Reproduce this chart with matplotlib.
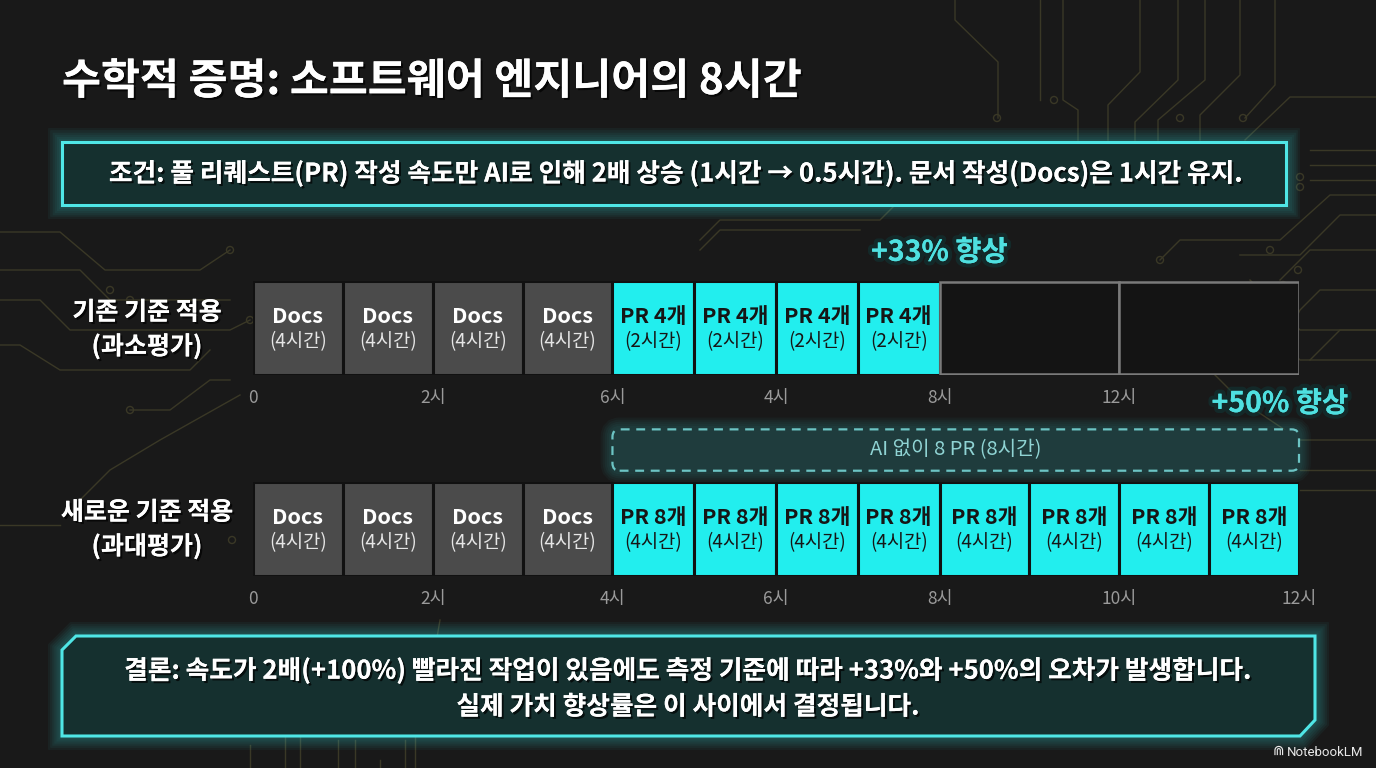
import matplotlib
matplotlib.use("Agg")
import matplotlib.pyplot as plt
from matplotlib.patches import Rectangle, FancyBboxPatch, Polygon, Circle
import matplotlib.patheffects as pe
import numpy as np

plt.rcParams['font.family'] = ['Noto Sans CJK KR', 'DejaVu Sans']

# ---------------- data ----------------
title = "수학적 증명: 소프트웨어 엔지니어의 8시간"
condition = "조건: 풀 리퀘스트(PR) 작성 속도만 AI로 인해 2배 상승 (1시간 → 0.5시간). 문서 작성(Docs)은 1시간 유지."
conclusion_lines = ["결론: 속도가 2배(+100%) 빨라진 작업이 있음에도 측정 기준에 따라 +33%와 +50%의 오차가 발생합니다.",
                    "실제 가치 향상률은 이 사이에서 결정됩니다."]

row_labels = ["기존 기준 적용\n(과소평가)", "새로운 기준 적용\n(과대평가)"]

# top row (existing criterion): segment kinds, widths (relative), labels
top_kinds = ["docs"] * 4 + ["pr"] * 4 + ["empty"] * 2
top_widths = [1.0, 1.0, 1.0, 1.0, 0.91, 0.91, 0.91, 0.91, 2.0, 2.0]
top_main = ["Docs"] * 4 + ["PR 4개"] * 4 + ["", ""]
top_sub = ["(4시간)"] * 4 + ["(2시간)"] * 4 + ["", ""]
top_tick_bounds = [0, 2, 4, 6, 8, 9]
top_tick_labels = ["0", "2시", "6시", "4시", "8시", "12시"]
top_gain = "+33% 향상"

# bottom row (new criterion)
bot_kinds = ["docs"] * 4 + ["pr"] * 8
bot_widths = [1.0, 1.0, 1.0, 1.0, 0.91, 0.91, 0.91, 0.91, 1.0, 1.0, 1.0, 1.0]
bot_main = ["Docs"] * 4 + ["PR 8개"] * 8
bot_sub = ["(4시간)"] * 4 + ["(4시간)"] * 8
bot_tick_bounds = [0, 2, 4, 6, 8, 10, 12]
bot_tick_labels = ["0", "2시", "4시", "6시", "8시", "10시", "12시"]
bot_gain = "+50% 향상"
no_ai_label = "AI 없이 8 PR (8시간)"

# ---------------- style ----------------
BG = "#191919"
CYAN = "#22EEEE"
GLOW = "#3fdcdc"
DOCS = "#4b4b4b"
TEAL_FILL = "#15302f"
W, H = 1376, 768

fig = plt.figure(figsize=(W / 100, H / 100), dpi=100, facecolor=BG)
ov = fig.add_axes([0, 0, 1, 1], zorder=0)
ov.set_xlim(0, W)
ov.set_ylim(H, 0)
ov.axis("off")
ov.set_facecolor(BG)

# decorative circuit traces
trace = "#3a3826"
traces = [
    [(955, 0), (955, 20), (998, 62), (998, 118)],
    [(1040, 0), (1040, 100)],
    [(1063, 0), (1063, 100), (1078, 110), (1078, 140)],
    [(1140, 0), (1140, 72), (1108, 105), (1108, 140)],
    [(1178, 0), (1178, 80), (1135, 122), (1135, 140)],
    [(1205, 0), (1205, 80), (1158, 120), (1158, 140)],
    [(1240, 0), (1240, 75), (1200, 115), (1200, 140)],
    [(1275, 0), (1275, 85), (1245, 118)],
    [(1376, 97), (1290, 97), (1245, 140)],
    [(1376, 150), (1310, 150)],
    [(1376, 165), (1310, 165)],
    [(1376, 180), (1310, 180)],
    [(1376, 195), (1330, 195), (1280, 240), (1180, 240), (1160, 260)],
    [(1376, 215), (1340, 215), (1300, 255), (1240, 255)],
    [(1376, 250), (1310, 250), (1290, 270), (1280, 280)],
    [(1376, 290), (1320, 290), (1300, 310), (1290, 330)],
    [(1376, 330), (1340, 330), (1310, 360)],
    [(1250, 280), (1300, 330), (1376, 330)],
    [(1150, 310), (1250, 310), (1300, 360), (1376, 360)],
    [(1180, 340), (1240, 400), (1300, 440), (1376, 440)],
    [(1300, 470), (1376, 470)],
    [(1300, 490), (1376, 490)],
    [(0, 232), (60, 232), (105, 270), (200, 270), (230, 250)],
    [(0, 270), (80, 270), (110, 300), (230, 300)],
    [(0, 300), (40, 300), (70, 330), (230, 330), (250, 320)],
    [(0, 345), (20, 345), (60, 370), (190, 370), (210, 350)],
    [(130, 410), (170, 410), (210, 380), (230, 380)],
    [(80, 500), (110, 470), (160, 440), (240, 395)],
    [(0, 525), (60, 525)],
    [(300, 736), (300, 768)],
    [(285, 736), (285, 768)],
    [(338, 740), (338, 768)],
    [(355, 740), (355, 768)],
    [(380, 760), (380, 768)],
    [(405, 740), (405, 768)],
    [(415, 730), (415, 768)],
    [(250, 745), (250, 768)],
    [(440, 620), (420, 736)],
    [(700, 250), (720, 230), (860, 230)],
    [(700, 240), (720, 220), (880, 220), (900, 200)],
]
for t in traces:
    xs, ys = zip(*t)
    ov.plot(xs, ys, color=trace, lw=1.0, zorder=0.5)
for (cx, cy) in [(997, 118), (1054, 100), (1180, 118), (1243, 118), (1300, 187), (1300, 177),
                 (1160, 260), (1298, 270), (1283, 285), (1270, 250), (130, 300), (110, 290),
                 (230, 250), (250, 320), (130, 410), (232, 540), (275, 705), (305, 705)]:
    ov.add_patch(Circle((cx, cy), 3.5, fill=False, ec=trace, lw=1.0, zorder=0.5))


def glow_patch(make, base_lw=2.0, color=GLOW, layers=6, z=2):
    for i in range(layers, 0, -1):
        p = make()
        p.set_facecolor("none")
        p.set_edgecolor(color)
        p.set_linewidth(base_lw + i * 3.0)
        p.set_alpha(0.05)
        p.set_zorder(z)
        ov.add_patch(p)


shadow = [pe.withSimplePatchShadow(offset=(1.5, -1.5), shadow_rgbFace="black", alpha=0.7), pe.Normal()]

# title
ov.text(62, 82, title, color="white", fontsize=30.5, fontweight="bold", ha="left", va="center",
        zorder=5, path_effects=shadow)

# condition box
cb = dict(xy=(62, 142), w=1224, h=63)
glow_patch(lambda: Rectangle(cb["xy"], cb["w"], cb["h"]))
ov.add_patch(Rectangle(cb["xy"], cb["w"], cb["h"], fc=TEAL_FILL, ec="#4fe6e6", lw=2.2, zorder=3))
ov.text(62 + 1224 / 2 + 2, 174, condition, color="white", fontsize=18.5, fontweight="bold",
        ha="center", va="center", zorder=5, path_effects=shadow)

# conclusion box (chamfered corners)
poly_pts = [(62, 650), (76, 636), (1315, 636), (1315, 720), (1300, 736), (62, 736)]
glow_patch(lambda: Polygon(poly_pts, closed=True))
ov.add_patch(Polygon(poly_pts, closed=True, fc=TEAL_FILL, ec="#4fe6e6", lw=2.2, zorder=3))
ov.text(688, 671, conclusion_lines[0], color="white", fontsize=18.5, fontweight="bold",
        ha="center", va="center", zorder=5, path_effects=shadow)
ov.text(688, 707, conclusion_lines[1], color="white", fontsize=18.5, fontweight="bold",
        ha="center", va="center", zorder=5, path_effects=shadow)

# NotebookLM mark
ov.text(1287, 752, "NotebookLM", color="#e8e8e8", fontsize=9.5, ha="left", va="center",
        family=["Roboto", "DejaVu Sans"], zorder=5)
ov.text(1284, 751, "⋒", color="#e8e8e8", fontsize=10, ha="right", va="center",
        family=["DejaVu Sans"], zorder=5)

# row labels
ov.text(147, 330, row_labels[0], color="white", fontsize=18, fontweight="bold", ha="center",
        va="center", linespacing=1.4, zorder=5, path_effects=shadow)
ov.text(147, 530, row_labels[1], color="white", fontsize=18, fontweight="bold", ha="center",
        va="center", linespacing=1.4, zorder=5, path_effects=shadow)

# ---------------- rows ----------------
x0, x1 = 253, 1299


def make_row(y_top, y_bot, kinds, widths, mains, subs, tick_bounds, tick_labels):
    ax = fig.add_axes([x0 / W, 1 - y_bot / H, (x1 - x0) / W, (y_bot - y_top) / H], zorder=2)
    ax.set_facecolor("none")
    lefts = np.concatenate([[0], np.cumsum(widths)[:-1]])
    edges = np.concatenate([[0], np.cumsum(widths)])
    total = edges[-1]
    ax.set_xlim(0, total)
    ax.set_ylim(-0.5, 0.5)
    for k, l, w, m, s in zip(kinds, lefts, widths, mains, subs):
        if k == "docs":
            ax.barh(0, w, left=l, height=1.0, color=DOCS, edgecolor="#111111", lw=2.2)
            tc = "white"
        elif k == "pr":
            ax.barh(0, w, left=l, height=1.0, color=CYAN, edgecolor="#111111", lw=2.2)
            tc = "#161616"
        else:
            ax.barh(0, w, left=l, height=0.98, color="#141414", edgecolor="#7a7a7a", lw=1.8)
            tc = None
        if tc:
            ax.text(l + w / 2, 0.12, m, color=tc, fontsize=15.5, fontweight="bold",
                    ha="center", va="center")
            ax.text(l + w / 2, -0.15, s, color=tc if k == "pr" else "#e6e6e6", fontsize=13.5,
                    ha="center", va="center")
    ax.set_xticks(edges[tick_bounds], tick_labels)
    ax.tick_params(axis="x", length=0, pad=10, labelsize=12.5, labelcolor="#9a9a9a")
    ax.set_yticks([])
    for sp in ax.spines.values():
        sp.set_visible(False)
    return ax, edges


ax_top, top_edges = make_row(281, 375, top_kinds, top_widths, top_main, top_sub,
                             top_tick_bounds, top_tick_labels)
ax_bot, bot_edges = make_row(482, 576, bot_kinds, bot_widths, bot_main, bot_sub,
                             bot_tick_bounds, bot_tick_labels)

gain_fx = [pe.withStroke(linewidth=6, foreground="#0f3a3a", alpha=0.5), pe.Normal()]
# +33% label centred on end of actual work (boundary 8 of top row)
ax_top.text(top_edges[8], 0.80, top_gain, color="#4fe0e0", fontsize=20.5, fontweight="bold",
            ha="center", va="center", clip_on=False, path_effects=gain_fx)
ax_bot.text(bot_edges[-1] + 0.55, 1.33, bot_gain, color="#4fe0e0", fontsize=20.5, fontweight="bold",
            ha="right", va="center", clip_on=False, path_effects=gain_fx)

# dashed "without AI" box spanning the PR segment of bottom row
pr_start = bot_edges[4]
pr_end = bot_edges[-1]
for i in range(5, 0, -1):
    ax_bot.add_patch(FancyBboxPatch((pr_start, 0.62), pr_end - pr_start, 0.44,
                                    boxstyle="round,pad=0,rounding_size=0.08",
                                    fc="none", ec=GLOW, lw=2 + 3 * i, alpha=0.04, clip_on=False))
ax_bot.add_patch(FancyBboxPatch((pr_start, 0.62), pr_end - pr_start, 0.44,
                                boxstyle="round,pad=0,rounding_size=0.08",
                                fc="#1f3c3d", ec="#6cc4c4", lw=1.6, ls=(0, (4, 3)), clip_on=False))
ax_bot.text((pr_start + pr_end) / 2, 0.84, no_ai_label, color="#8fd3d3", fontsize=14.5,
            ha="center", va="center", clip_on=False)

fig.savefig("out.png", dpi=100, facecolor=BG)
